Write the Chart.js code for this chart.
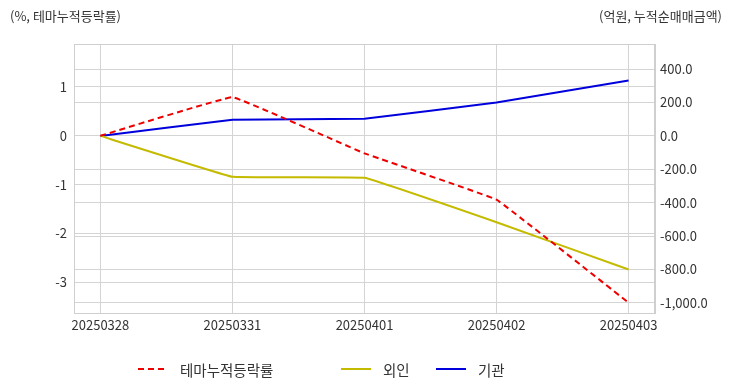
<!DOCTYPE html>
<html>
<head>
<meta charset="utf-8">
<script src="https://cdn.jsdelivr.net/npm/chart.js@4"></script>
<style>
  body { margin:0; background:#fff; font-family:"Noto Sans CJK KR", sans-serif; }
  #wrap { position:relative; width:732px; height:392px; }
  .axisTitle { position:absolute; top:6px; font-size:13px; color:#333; }
  #legend { position:absolute; top:359px; left:0; width:732px; font-size:14.5px; color:#333; }
  .item { position:absolute; top:0; display:flex; align-items:center; height:20px; }
  .item svg { margin-right:12px; }
</style>
</head>
<body>
<div id="wrap">
  <canvas id="myChart" width="732" height="392"></canvas>
  <div class="axisTitle" style="left:10px">(%, 테마누적등락률)</div>
  <div class="axisTitle" style="right:10px">(억원, 누적순매매금액)</div>
  <div id="legend"></div>
</div>
<script>
// 날짜
const dates = ['20250328', '20250331', '20250401', '20250402', '20250403'];
// 테마누적등락률 (%)
const themeRate = [0, 0.79, -0.36, -1.31, -3.42];
// 누적순매매금액 (억원)
const foreign = [0, -245, -251, -517, -800];
const institution = [0, 97, 103, 200, 332];

const leftTicks = [-3, -2, -1, 0, 1];
const rightTicks = [-1000, -800, -600, -400, -200, 0, 200, 400];

const series = [
  { label: '테마누적등락률', data: themeRate, color: '#ee0000', dash: [6, 4], axis: 'y' },
  { label: '외인', data: foreign, color: '#c4bb00', dash: [], axis: 'y1' },
  { label: '기관', data: institution, color: '#0000dd', dash: [], axis: 'y1' }
];

const ctx = document.getElementById('myChart');
const tickFont = { family: 'Noto Sans CJK KR', size: 13 };

const borderBox = {
  id: 'borderBox',
  afterDraw(chart) {
    const a = chart.chartArea, c = chart.ctx;
    c.save();
    c.strokeStyle = '#cfcfcf';
    c.lineWidth = 1;
    c.strokeRect(a.left + 0.5, a.top + 0.5, a.right - a.left - 1, a.bottom - a.top);
    c.restore();
  }
};

new Chart(ctx, {
  type: 'line',
  data: {
    datasets: series.map(s => ({
      label: s.label,
      data: s.data.map((v, i) => ({ x: i, y: v })),
      borderColor: s.color,
      backgroundColor: s.color,
      borderDash: s.dash,
      borderWidth: 2,
      pointRadius: 0,
      tension: 0.05,
      yAxisID: s.axis
    }))
  },
  options: {
    responsive: false,
    animation: false,
    layout: { padding: { top: 44, left: 0, right: 0, bottom: 0 } },
    plugins: { legend: false, tooltip: { enabled: false } },
    scales: {
      x: {
        type: 'linear',
        min: -0.2,
        max: 4.2,
        afterBuildTicks: s => { s.ticks = dates.map((d, i) => ({ value: i })); },
        afterFit: s => { s.height = 79; },
        grid: { color: '#d4d4d4', drawTicks: false },
        border: { color: '#cfcfcf' },
        ticks: {
          padding: 4,
          color: '#333',
          font: tickFont,
          maxRotation: 0,
          autoSkip: false,
          callback: v => dates[v]
        }
      },
      y: {
        position: 'left',
        min: -3.63,
        max: 1.88,
        afterBuildTicks: s => { s.ticks = leftTicks.map(v => ({ value: v })); },
        afterFit: s => { s.width = 74; },
        grid: { color: '#d4d4d4', drawTicks: false },
        border: { color: '#cfcfcf' },
        ticks: {
          padding: 7,
          color: '#333',
          font: tickFont,
          callback: v => String(v)
        }
      },
      y1: {
        position: 'right',
        min: -1060,
        max: 550,
        afterBuildTicks: s => { s.ticks = rightTicks.map(v => ({ value: v })); },
        afterFit: s => { s.width = 77; },
        grid: { color: '#d4d4d4', drawTicks: false },
        border: { color: '#cfcfcf' },
        ticks: {
          padding: 5,
          color: '#333',
          font: tickFont,
          callback: v => v.toLocaleString('en-US', { minimumFractionDigits: 1, maximumFractionDigits: 1 })
        }
      }
    }
  },
  plugins: [borderBox]
});

// 범례
const legendPos = [138, 341, 436];
const legend = document.getElementById('legend');
series.forEach((s, i) => {
  const el = document.createElement('div');
  el.className = 'item';
  el.style.left = legendPos[i] + 'px';
  el.innerHTML = '<svg width="30" height="4"><line x1="0" y1="2" x2="30" y2="2" stroke="' + s.color +
    '" stroke-width="2" stroke-dasharray="' + (s.dash.length ? s.dash.join(',') : 'none') + '"/></svg><span>' + s.label + '</span>';
  legend.appendChild(el);
});
</script>
</body>
</html>
